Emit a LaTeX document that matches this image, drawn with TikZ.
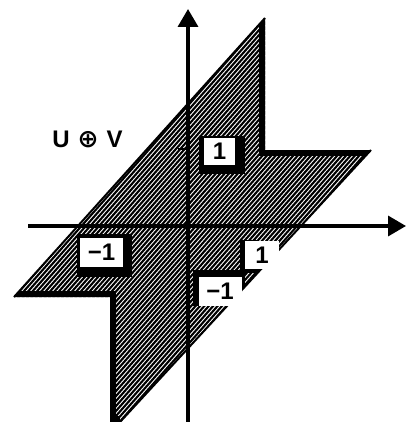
\documentclass[tikz,border=0pt]{standalone}
\usepackage{fontspec}
\setmainfont{Liberation Sans}
\newfontfamily\symfont{DejaVu Sans}
\usetikzlibrary{arrows.meta}
\begin{document}
\begin{tikzpicture}[x=1pt,y=-1pt,
  hatchline/.style={line width=2.1pt},
  thickedge/.style={line width=12pt,line join=miter},
  thinedge/.style={line width=2pt},
  axisline/.style={line width=3.5pt,-{Triangle[length=18pt,width=20pt]}},
  shadowbox/.style={fill=black},
  lblbox/.style={fill=white,inner sep=0pt,font=\fontsize{24}{24}\selectfont\bfseries},
  lbltext/.style={font=\fontsize{24}{24}\selectfont\bfseries}]
\useasboundingbox (0,0) rectangle (412,422);
% shape corners
\coordinate (A) at (265,18);
\coordinate (B) at (265,150);
\coordinate (C) at (371,150);
\coordinate (D) at (120,422);
\coordinate (Dl) at (110,422);
\coordinate (E) at (110,297);
\coordinate (F) at (14,297);
% hatched region
\begin{scope}
  \clip (A) -- (B) -- (C) -- (D) -- (Dl) -- (E) -- (F) -- cycle;
  \foreach \i in {-420,-415.6,...,440} \draw[hatchline] (\i,430) -- ++(380,-430);
  \draw[thickedge] (A) -- (B) -- (C);
  \draw[thickedge] (D) -- (Dl) -- (E) -- (F);
  \fill[shadowbox] (199,136) rectangle (245,174);
  \fill[shadowbox] (77,234) rectangle (132,277);
  \fill[shadowbox] (240,240) rectangle (259,273);
  \fill[shadowbox] (193,270) rectangle (245,306);
\end{scope}
\draw[thinedge] (F) -- (A);
\draw[thinedge] (C) -- (D);
% axes
\coordinate (vb) at (188,422);
\coordinate (vt) at (188,9);
\coordinate (hl) at (28,226);
\coordinate (hr) at (406,226);
\draw[axisline] (vb) -- (vt);
\draw[axisline] (hl) -- (hr);
\coordinate (t1a) at (178,149);
\coordinate (t1b) at (188,149);
\draw[line width=2pt] (t1a) -- (t1b);
% labels
\node[lblbox,minimum width=31pt,minimum height=26pt] (ya) at (219.5,151.5) {1};
\node[lblbox,minimum width=43pt,minimum height=29pt] (xb) at (101.5,252.5) {−1};
\node[lblbox,minimum width=34pt,minimum height=28pt] (xa) at (262,255) {1};
\node[lblbox,minimum width=43pt,minimum height=29pt] (yb) at (220,291.5) {−1};
\node[lbltext] (uv) at (87.5,139) {U\hspace{8pt}{\symfont\fontsize{25}{25}\selectfont ⊕}\hspace{8pt}V};
\end{tikzpicture}
\end{document}
